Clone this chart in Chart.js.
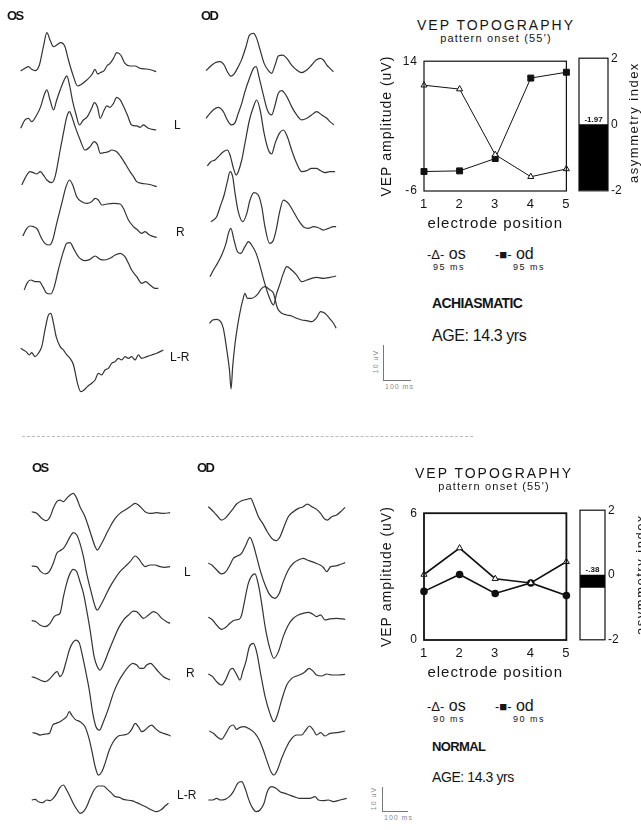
<!DOCTYPE html>
<html>
<head>
<meta charset="utf-8">
<script src="https://cdn.jsdelivr.net/npm/chart.js"></script>
<style>
body{margin:0;width:641px;height:830px;overflow:hidden;background:#fff;position:relative;font-family:"Liberation Sans",Arial,sans-serif;color:#151515}
canvas{position:absolute}
.t{position:absolute;white-space:nowrap;line-height:1}
.b{font-weight:bold}
.c{text-align:center}
.eye{font-weight:bold;font-size:13px;letter-spacing:-1.5px}
.rot{transform:rotate(-90deg);transform-origin:center center;text-align:center}
.bar{position:absolute;border-left:1px solid #777;border-bottom:1px solid #777}
.sm{font-size:7px;color:#8a8a8a;letter-spacing:1px}
.lg{font-size:16px}
.lg span{font-size:13px;letter-spacing:0}
.ms{font-size:9px;letter-spacing:1.5px}
</style>
</head>
<body>

<canvas id="achOsCv"></canvas>
<canvas id="achOdCv"></canvas>
<canvas id="norOsCv"></canvas>
<canvas id="norOdCv"></canvas>
<canvas id="achTopo"></canvas>
<canvas id="achAsymCv"></canvas>
<canvas id="norTopo"></canvas>
<canvas id="norAsymCv"></canvas>

<!-- upper panel -->
<div class="t eye" style="left:7px;top:9px">OS</div>
<div class="t eye" style="left:201px;top:9px">OD</div>
<div class="t" style="left:174px;top:119px;font-size:12px">L</div>
<div class="t" style="left:176px;top:226px;font-size:12px">R</div>
<div class="t" style="left:170px;top:351px;font-size:12px">L-R</div>
<div class="t c" style="left:396px;width:200px;top:18px;font-size:14px;letter-spacing:2px">VEP TOPOGRAPHY</div>
<div class="t c" style="left:396px;width:200px;top:33px;font-size:11px;letter-spacing:1.2px">pattern onset (55')</div>
<div class="t lg" style="left:427px;top:246px"><span>-&#916;-</span> os</div>
<div class="t lg" style="left:495px;top:246px"><span>-&#9632;-</span> od</div>
<div class="t ms" style="left:433px;top:263px">95 ms</div>
<div class="t ms" style="left:513px;top:263px">95 ms</div>
<div class="t b" style="left:432px;top:296px;font-size:14px;letter-spacing:-.6px">ACHIASMATIC</div>
<div class="t" style="left:432px;top:328px;font-size:16px;letter-spacing:-.4px">AGE: 14.3 yrs</div>
<div class="t rot" style="left:563px;width:140px;top:116px;font-size:13px;letter-spacing:1.5px">asymmetry index</div>
<div class="bar" style="left:383px;top:345px;width:27px;height:35px"></div>
<div class="t sm rot" style="left:355px;width:40px;top:358px">10 uV</div>
<div class="t sm" style="left:385px;top:383px">100 ms</div>
<div class="t" style="left:22px;top:436px;width:451px;border-top:1px dashed #bbb"></div>

<!-- lower panel -->
<div class="t eye" style="left:32px;top:461px">OS</div>
<div class="t eye" style="left:197px;top:461px">OD</div>
<div class="t" style="left:184px;top:566px;font-size:12px">L</div>
<div class="t" style="left:186px;top:667px;font-size:12px">R</div>
<div class="t" style="left:177px;top:789px;font-size:12px">L-R</div>
<div class="t c" style="left:394px;width:200px;top:466px;font-size:14px;letter-spacing:2px">VEP TOPOGRAPHY</div>
<div class="t c" style="left:394px;width:200px;top:481px;font-size:11px;letter-spacing:1.2px">pattern onset (55')</div>
<div class="t lg" style="left:427px;top:698px"><span>-&#916;-</span> os</div>
<div class="t lg" style="left:495px;top:698px"><span>-&#9632;-</span> od</div>
<div class="t ms" style="left:433px;top:715px">90 ms</div>
<div class="t ms" style="left:513px;top:715px">90 ms</div>
<div class="t b" style="left:432px;top:740px;font-size:13px;letter-spacing:-.6px">NORMAL</div>
<div class="t" style="left:432px;top:770px;font-size:14px;letter-spacing:-.4px">AGE: 14.3 yrs</div>
<div class="t rot" style="left:570px;width:140px;top:568px;font-size:13px;letter-spacing:1.5px">asymmetry index</div>
<div class="bar" style="left:382px;top:787px;width:25px;height:24px"></div>
<div class="t sm rot" style="left:353px;width:40px;top:795px">10 uV</div>
<div class="t sm" style="left:384px;top:814px">100 ms</div>

<script>
// waveforms, [ms, uV] relative to each trace's start level
var achOs1 = [[0,0],[16,0.8],[29,1.3],[41,0.5],[54,0.1],[70,1.8],[85,7.3],[98,11.5],[110,9.3],[123,7.3],[135,7.8],[150,8.5],[166,7.3],[179,3.3],[198,-1.7],[213,-4.5],[229,-3.9],[248,-2.7],[266,-1.2],[279,0.5],[288,-0.9],[298,-0.5],[313,0.1],[323,1.5],[335,2.3],[348,3.8],[360,5.5],[375,4.8],[391,2.3],[410,1.5],[429,1.5],[448,0.8],[473,0.6],[491,0.3],[508,-0.2]];
var achOs2 = [[0,0],[16,2.5],[29,3],[41,2],[60,4],[75,6.5],[88,10],[98,11.5],[110,8.5],[123,5.5],[135,8.5],[148,11.5],[163,14.5],[173,15.7],[183,13],[195,8],[208,4],[220,1],[235,2.5],[250,3.5],[266,6],[276,7.7],[288,6.3],[298,3],[313,5.5],[323,6.7],[335,6.3],[348,7.5],[360,9.3],[373,8.5],[385,6.7],[400,4],[416,1],[435,0.7],[448,0.3],[460,1],[479,0],[508,-0.5]];
var achOs3 = [[4,0],[16,2],[35,4],[48,3.7],[60,3.3],[73,4],[85,3],[98,1.5],[116,0.7],[129,2.5],[148,10.5],[160,15.5],[173,20.5],[183,22],[191,20.7],[204,17.5],[223,13.5],[241,10.5],[260,11.5],[275,13],[288,12],[298,9.5],[313,9.7],[329,10],[341,10.5],[360,10],[375,8.5],[395,6],[410,4],[423,2.5],[435,1],[454,0.5],[473,0.3],[491,0],[510,-0.5]];
var achOs4 = [[8,0],[23,2.3],[35,3],[48,2.8],[63,2],[75,-0.2],[91,-2.2],[108,-2.7],[120,-1.2],[135,3.8],[154,9.8],[170,14.8],[183,16.8],[195,15.3],[210,11.8],[229,10.3],[248,9.8],[266,10.3],[279,11.3],[291,10.8],[304,9.3],[323,9.6],[348,9.8],[373,9.6],[385,8.3],[404,4.8],[423,2.8],[438,1.8],[454,0.8],[466,1.3],[483,0.3],[498,-0.2],[510,-0.4]];
var achOs5 = [[13,0],[25,2.2],[38,3],[54,2.5],[70,2.5],[83,1],[98,-1],[113,-1.2],[126,1],[141,6],[160,11.5],[173,14],[185,14.2],[198,12.5],[216,10],[241,8.8],[260,9.2],[279,10.2],[298,9.2],[316,9],[335,9.5],[354,10.5],[373,11],[391,10],[404,8],[416,6],[435,4],[454,2],[469,2.5],[485,1.5],[504,0.5],[516,0.5]];
var achOs6 = [[0,0],[10,-0.5],[20,-1],[33,-2],[41,-1.3],[54,-2.5],[66,-1.5],[79,0.5],[91,5.5],[104,10],[113,10.5],[123,7.5],[133,3.5],[148,0.5],[160,-0.5],[173,-2],[185,-3],[198,-5],[213,-10.5],[225,-13],[238,-12.5],[250,-11.5],[266,-10.5],[279,-9.5],[291,-7.5],[304,-8],[316,-6.5],[329,-6],[341,-4.5],[354,-4],[366,-3],[379,-3.5],[391,-2.5],[404,-3],[416,-2.5],[429,-3.5],[441,-2],[454,-3],[473,-2.5],[491,-2],[510,-1.5],[535,-0.5]];

var achOd1 = [[0,0],[15,1.2],[34,2.4],[53,2.7],[68,1.7],[80,-0.3],[93,-1.6],[105,-1],[121,1.2],[134,3.4],[150,7.2],[163,10.7],[178,11.2],[190,9.7],[203,6.2],[218,2.2],[234,0],[246,-0.8],[259,1.7],[271,4.4],[288,4.7],[303,3.7],[321,1.7],[340,0.2],[359,-0.6],[378,0.2],[396,1.7],[413,3.2],[428,3.7],[440,3.2],[453,1.7],[465,0.7],[478,-0.3]];
var achOd2 = [[0,0],[15,1.5],[30,2.7],[46,3.3],[65,2],[80,-0.5],[96,-2],[109,-1.3],[121,1.5],[134,4.5],[146,8],[163,12],[178,15],[188,15.5],[200,12],[215,7],[230,2.5],[246,1],[259,4],[271,7.5],[284,8.3],[303,6.5],[321,3.5],[340,1],[359,-0.5],[378,0],[396,1],[415,2],[434,1],[453,0],[465,-1],[480,-2]];
var achOd3 = [[5,0],[18,1.3],[34,1.8],[46,2.8],[65,4.3],[80,4.8],[90,3.3],[103,-0.7],[113,-2.7],[121,-1.7],[134,1.8],[146,6.8],[163,13.8],[178,17.8],[190,19.8],[203,16.8],[218,9.8],[234,4.8],[246,3.6],[259,6.8],[275,9.8],[290,10.8],[305,8.8],[321,4.8],[340,0.8],[359,-1.7],[378,-1.4],[396,-0.7],[413,-0.7],[430,-1.4],[446,-2],[465,-1.7],[484,-1.7]];
var achOd4 = [[18,0],[28,0.5],[40,1.5],[53,4.5],[68,8],[80,12],[90,15],[100,13.5],[109,8.5],[121,3],[138,0],[153,2.5],[165,6.5],[180,8.7],[196,8],[209,4.5],[221,-1.5],[238,-6.5],[250,-6],[263,-2.5],[275,2.5],[290,6.5],[309,5.5],[328,3],[346,0.5],[365,-1.5],[384,-2],[403,-1.5],[421,-1.8],[440,-2.5],[459,-2],[478,-1.5],[488,-1.5]];
var achOd5 = [[15,0],[28,2],[43,4],[59,6.5],[75,10],[84,13],[93,14.5],[105,11],[118,7.5],[130,7],[146,9],[159,10.5],[175,9],[188,7],[200,4],[215,-0.5],[234,-5.5],[253,-8.5],[265,-5],[278,-2],[290,1],[303,3],[321,2],[340,0.5],[359,-1.5],[378,-1],[396,-0.5],[415,-0.2],[440,-0.5],[465,-0.2],[488,0.2]];
var achOd6 = [[13,0],[25,1],[40,1.2],[55,0.5],[65,-1.5],[78,-8],[88,-14],[94,-19.7],[100,-13],[109,-6],[118,-1],[128,3.5],[138,7],[146,9],[155,7.5],[171,7.5],[184,8],[196,9],[209,10.5],[221,11],[240,10],[253,9],[268,4.5],[284,3],[303,2.5],[321,2.2],[340,1.5],[359,1],[378,0.8],[396,0.5],[413,1.5],[430,3.5],[446,3],[463,1.5],[478,0],[488,-1.5]];

var norOs1 = [[0,0],[19,-0.5],[38,-2],[54,-2.7],[69,-1.5],[81,1],[94,3],[106,3.5],[119,3],[131,4],[144,5],[156,5.5],[169,4],[181,1.5],[200,-1.5],[219,-6],[238,-10.5],[246,-11.5],[259,-10],[275,-7.5],[294,-4.5],[313,-2],[331,-0.5],[350,0.5],[369,1.5],[388,2.5],[400,2],[413,1],[425,0],[444,-0.5],[469,-0.3],[494,-0.5],[519,-0.3]];
var norOs2 = [[0,0],[19,-0.2],[34,-1.7],[50,-2.4],[66,-1.7],[81,0.8],[94,3.8],[106,4.6],[119,5.3],[131,6.8],[144,8.8],[156,10],[169,9.3],[181,6.8],[194,2.8],[206,-2.2],[221,-7.2],[238,-12.2],[246,-13.2],[259,-11.7],[275,-9.2],[294,-6.2],[313,-3.7],[331,-1.7],[350,-0.2],[369,1.3],[388,3],[400,2.3],[413,0.8],[425,-0.2],[444,0.3],[463,0.3],[481,-0.2],[500,-0.4],[519,-0.2]];
var norOs3 = [[0,0],[16,-0.3],[31,-1.3],[50,-1.8],[69,-0.8],[84,1.2],[94,1.7],[106,2.2],[119,7.2],[131,11.2],[144,14.2],[156,15.4],[169,14.7],[181,11.7],[194,8.2],[206,3.2],[219,-2.8],[234,-10.8],[246,-13.8],[256,-14.8],[271,-12.8],[288,-9.3],[306,-5.8],[325,-2.3],[344,0.2],[363,1.7],[381,2.9],[394,2.7],[406,1.7],[419,0.7],[438,1.7],[456,2.7],[471,2.2],[488,0.7],[506,-0.3],[519,-0.8]];
var norOs4 = [[0,0],[16,-0.4],[31,-1],[50,-1.5],[63,-1],[75,0],[88,1.2],[96,1.5],[106,0],[116,1],[129,4.5],[141,8],[154,10.2],[166,11],[179,10],[191,6],[204,1],[216,-4],[229,-11],[241,-15],[254,-16],[269,-13.5],[288,-9.5],[306,-5],[325,-1.5],[344,1],[363,3],[379,4],[394,3.5],[406,2.5],[419,2.5],[431,3.5],[446,4],[459,3],[475,1.5],[494,0],[519,-1]];
var norOs5 = [[3,0],[16,-0.2],[31,-0.7],[50,-0.4],[66,-0.2],[79,2.3],[91,2.8],[106,3.3],[119,4],[131,4.8],[141,6.3],[150,5.3],[163,4],[181,3.3],[200,1.8],[213,-1.2],[225,-5.2],[238,-10.2],[250,-12.7],[263,-11.7],[275,-9.2],[291,-5.2],[306,-2.7],[325,-1],[344,-0.7],[363,-0.2],[375,1],[388,2.8],[400,1.8],[413,0.3],[425,0.8],[438,1.8],[450,2.3],[463,1.3],[479,0.3],[494,-0.2],[513,-0.7],[521,-1]];
var norOs6 = [[0,0],[13,0.2],[25,-0.5],[41,-0.8],[56,0],[69,-0.2],[81,0.5],[94,2],[106,3.8],[119,4.5],[131,3],[144,1],[159,-1.5],[171,-3],[181,-4],[194,-3.5],[206,-2],[219,0.5],[234,3],[250,4.2],[269,4.2],[284,3.2],[300,2],[313,1],[329,0.8],[344,0.2],[356,0],[375,-0.2],[394,-0.8],[413,-1.5],[431,-2.2],[450,-3],[469,-3.5],[488,-2.8],[500,-1.8],[513,-1]];

var norOd1 = [[0,0],[13,-1],[31,-2.5],[50,-4],[63,-3.5],[79,-2],[94,-0.5],[106,0.8],[125,1.8],[144,2.2],[159,2.5],[171,0.5],[188,-3],[204,-5],[221,-7.5],[238,-9.5],[254,-10.2],[269,-9],[284,-6],[300,-3],[319,-1.5],[338,-0.5],[356,0],[371,0.8],[388,0],[406,-0.8],[421,-2],[434,-3.5],[446,-4],[463,-3],[481,-2.5],[496,-1.5],[513,-0.2]];
var norOd2 = [[0,0],[13,-0.5],[29,-1.8],[50,-3.2],[66,-2.5],[81,-0.5],[94,1.5],[109,2.2],[125,3],[141,5.5],[156,7.8],[169,5.5],[181,2],[196,-2.5],[213,-6.5],[231,-9.5],[250,-10.5],[266,-9],[281,-5.5],[300,-2],[319,0],[338,1],[356,1.5],[371,1],[388,0.5],[404,0],[419,-0.5],[431,-1.2],[444,-2.5],[459,-1],[478,-0.8],[496,-0.3],[513,0.2]];
var norOd3 = [[0,0],[16,-0.8],[31,-2.3],[50,-3.6],[66,-3],[81,-1.8],[100,-0.8],[116,-0.6],[125,0.7],[138,5.7],[150,10.2],[163,12.4],[175,13],[188,9.7],[200,4.2],[213,-2.8],[229,-8.8],[246,-12.3],[263,-10.3],[281,-5.8],[300,-2.3],[319,-0.3],[338,0.7],[356,1.2],[375,1.5],[391,1],[406,0.2],[421,0.7],[438,-0.8],[456,-0.5],[481,-0.3],[513,-0.6]];
var norOd4 = [[0,0],[16,-0.8],[31,-2.3],[50,-3.3],[66,-1.6],[81,1.2],[91,1.7],[104,0.2],[119,-1.8],[129,0.7],[141,3.7],[154,8.2],[169,9.2],[181,6.7],[196,0.2],[213,-6.8],[231,-11.8],[246,-14.3],[259,-12.3],[275,-7.8],[294,-3.3],[313,-1.3],[331,-0.6],[350,0],[363,0.7],[378,1.7],[391,1],[406,-0.3],[425,-0.6],[444,0],[463,-0.3],[488,-0.3],[513,-0.1]];
var norOd5 = [[4,0],[19,-0.7],[35,-1.9],[50,-2.5],[66,-0.7],[81,1.3],[94,1.8],[106,0.5],[119,1.1],[134,1.3],[156,0.5],[175,-0.7],[191,-2.7],[206,-5.7],[221,-9.2],[235,-12.2],[246,-13.2],[259,-11.7],[275,-8.2],[294,-4.7],[313,-2.2],[331,-1.2],[350,-1.2],[366,0.3],[379,1.5],[394,0.3],[406,-1.2],[421,-0.5],[438,-1.5],[456,-0.7],[481,-0.5],[513,0]];
var norOd6 = [[0,0],[16,0],[31,0.5],[46,0],[63,0.2],[79,1],[94,2.5],[110,5],[125,5.5],[138,3.5],[150,0.5],[163,-2],[179,-3.5],[194,-3],[209,-1],[221,2.5],[238,4],[254,3.5],[269,2.5],[288,2],[304,1.5],[321,1],[341,0.5],[363,0.5],[381,0.5],[400,1],[413,0],[431,-0.2],[450,0],[469,-0.5],[494,0],[519,0.5]];

// topography
var electrodes = [1, 2, 3, 4, 5];
var achAmpOs = [10.3, 9.7, -0.4, -3.8, -2.6];
var achAmpOd = [-3.0, -2.9, -1.0, 11.4, 12.3];
var norAmpOs = [3.1, 4.35, 2.9, 2.7, 3.7];
var norAmpOd = [2.3, 3.1, 2.2, 2.7, 2.1];
var achAsym = [-1.97];
var norAsym = [-0.38];
var achAsymText = ['-1.97'];
var norAsymText = ['-.38'];

Chart.defaults.font.family = '"Liberation Sans", Arial, sans-serif';
Chart.defaults.color = '#151515';

var PX_MS = 0.2667, PX_UV = 3.333;

function place(cv, l, t, w, h) {
	cv.width = w; cv.height = h;
	cv.style.left = l + 'px'; cv.style.top = t + 'px';
	cv.style.width = w + 'px'; cv.style.height = h + 'px';
}

function traceColumn(id, x0, top, h, baselines, traces) {
	var cv = document.getElementById(id);
	var left = Math.round(x0 - 8), w = 160;
	place(cv, left, top, w, h);
	var tMin = (left - x0) / PX_MS;
	var sets = traces.map(function (tr, i) {
		var off = (baselines[i] - top) / PX_UV;
		return {
			data: tr.map(function (p) { return {x: p[0], y: p[1] - off}; }),
			borderColor: '#333', borderWidth: 1.2, pointRadius: 0,
			cubicInterpolationMode: 'monotone', fill: false, clip: false
		};
	});
	new Chart(cv, {
		type: 'line',
		data: {datasets: sets},
		options: {
			responsive: false, animation: false, devicePixelRatio: 1,
			layout: {padding: 0, autoPadding: false},
			plugins: {legend: {display: false}, tooltip: {enabled: false}},
			scales: {
				x: {type: 'linear', display: false, min: tMin, max: tMin + w / PX_MS},
				y: {display: false, min: -h / PX_UV, max: 0}
			}
		}
	});
}

traceColumn('achOsCv', 20.7, 20, 385, [71, 128.3, 185, 236, 290, 348.3], [achOs1, achOs2, achOs3, achOs4, achOs5, achOs6]);
traceColumn('achOdCv', 206, 20, 385, [70.7, 118.3, 166, 221.7, 276.7, 323.3], [achOd1, achOd2, achOd3, achOd4, achOd5, achOd6]);
traceColumn('norOsCv', 31.7, 470, 355, [511.7, 566, 620.7, 676.7, 732.7, 800], [norOs1, norOs2, norOs3, norOs4, norOs5, norOs6]);
traceColumn('norOdCv', 208.3, 470, 355, [506.7, 563.3, 617.3, 674, 731, 800], [norOd1, norOd2, norOd3, norOd4, norOd5, norOd6]);

// letter spacing for the plotter-like axis text
var spacing = {
	id: 'spacing',
	beforeDraw: function (chart) { chart.ctx.letterSpacing = '1px'; }
};

var boxPlugin = {
	id: 'box',
	afterDraw: function (chart, args, opts) {
		var a = chart.chartArea, ctx = chart.ctx;
		ctx.save();
		ctx.strokeStyle = '#111';
		ctx.lineWidth = opts.width || 1;
		ctx.strokeRect(a.left, a.top, a.right - a.left, a.bottom - a.top);
		ctx.restore();
	}
};

var asymLabel = {
	id: 'asymLabel',
	afterDatasetsDraw: function (chart, args, opts) {
		var y = chart.scales.y.getPixelForValue(0), ctx = chart.ctx;
		var a = chart.chartArea;
		ctx.save();
		ctx.letterSpacing = '0px';
		ctx.font = 'bold 8px "Liberation Sans", Arial';
		ctx.fillStyle = '#111';
		ctx.textAlign = 'center';
		ctx.textBaseline = 'bottom';
		ctx.fillText(opts.text, (a.left + a.right) / 2, y - 1);
		ctx.restore();
	}
};

function topoChart(id, area, yMin, yMax, os, od, odStyle, lw) {
	var cv = document.getElementById(id);
	var yw = 54, xh = 42, pt = 10, pr = 8;
	place(cv, area.l - yw, area.t - pt, area.r - area.l + yw + pr, area.b - area.t + pt + xh);
	new Chart(cv, {
		type: 'line',
		data: {
			datasets: [
				{data: electrodes.map(function (e, i) { return {x: e, y: os[i]}; }),
				 borderColor: '#111', borderWidth: lw, pointStyle: 'triangle', pointRadius: 3.5,
				 pointBackgroundColor: '#fff', pointBorderColor: '#111', pointBorderWidth: 1, clip: false},
				{data: electrodes.map(function (e, i) { return {x: e, y: od[i]}; }),
				 borderColor: '#111', borderWidth: lw, pointStyle: odStyle, pointRadius: odStyle === 'rect' ? 4.2 : 3,
				 pointBackgroundColor: '#111', pointBorderColor: '#111', clip: false}
			]
		},
		options: {
			responsive: false, animation: false, devicePixelRatio: 1,
			layout: {padding: {top: pt, right: pr, left: 0, bottom: 0}, autoPadding: false},
			plugins: {legend: {display: false}, tooltip: {enabled: false}, box: {width: lw + 0.2}},
			scales: {
				x: {
					type: 'linear', min: 1, max: 5,
					grid: {display: false, drawTicks: false}, border: {display: false},
					ticks: {stepSize: 1, padding: 6, font: {size: 13}},
					title: {display: true, text: 'electrode position', font: {size: 15}, padding: {top: 4, bottom: 0}},
					afterFit: function (s) { s.height = xh; }
				},
				y: {
					min: yMin, max: yMax,
					grid: {display: false, drawTicks: false}, border: {display: false},
					ticks: {padding: 6, font: {size: 12}},
					afterBuildTicks: function (s) { s.ticks = [{value: yMin}, {value: yMax}]; },
					title: {display: true, text: 'VEP amplitude (uV)', font: {size: 14}, padding: {top: 9, bottom: 0}},
					afterFit: function (s) { s.width = yw; }
				}
			}
		},
		plugins: [spacing, boxPlugin]
	});
}

function asymChart(id, area, val, text) {
	var cv = document.getElementById(id);
	var aw = 22, pt = 10, pb = 10;
	place(cv, area.l - 1, area.t - pt, area.r - area.l + 1 + aw, area.b - area.t + pt + pb);
	new Chart(cv, {
		type: 'bar',
		data: {labels: [''], datasets: [{data: val, backgroundColor: '#000', barPercentage: 1, categoryPercentage: 1}]},
		options: {
			responsive: false, animation: false, devicePixelRatio: 1,
			layout: {padding: {top: pt, bottom: pb, left: 1, right: 0}, autoPadding: false},
			plugins: {legend: {display: false}, tooltip: {enabled: false}, asymLabel: {text: text[0]}, box: {width: 1.2}},
			scales: {
				x: {display: false},
				y: {
					position: 'right', min: -2, max: 2,
					grid: {display: false, drawTicks: false}, border: {display: false},
					ticks: {stepSize: 2, padding: 3, font: {size: 12}},
					afterFit: function (s) { s.width = aw; }
				}
			}
		},
		plugins: [boxPlugin, asymLabel]
	});
}

topoChart('achTopo', {l: 424, t: 58, r: 568, b: 191}, -6, 14, achAmpOs, achAmpOd, 'rect', 1);
asymChart('achAsymCv', {l: 579, t: 58, r: 608, b: 191}, achAsym, achAsymText);
topoChart('norTopo', {l: 424, t: 510, r: 568, b: 640}, 0, 6, norAmpOs, norAmpOd, 'circle', 1.6);
asymChart('norAsymCv', {l: 580, t: 510, r: 605, b: 640}, norAsym, norAsymText);
</script>
</body>
</html>
